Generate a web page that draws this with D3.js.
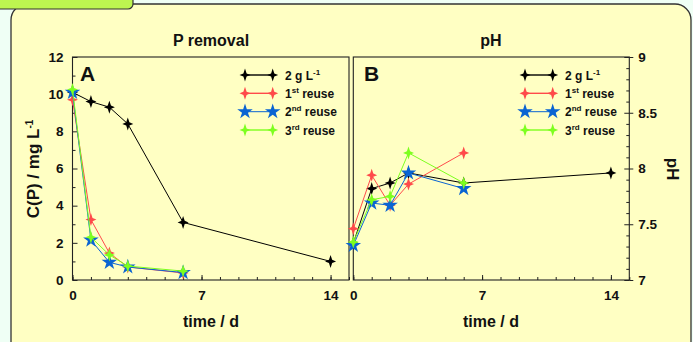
<!DOCTYPE html>
<html>
  <head>
    <meta charset="utf-8" />
    <script src="https://d3js.org/d3.v7.min.js"></script>
    <style>
        body {margin: 0; background: #effff5;}
        text {font-family: "Liberation Sans", Arial, sans-serif; font-weight: bold; fill: #111;}
    </style>
  </head>
  <body>
    <svg id="viz"></svg>

    <script>
        var width = 693
        var height = 342

        // sampling days
        var days = [0, 1, 2, 3, 6]
        var daysBase = [0, 1, 2, 3, 6, 14]

        // P concentration, mg/L
        var pBase = [10.1, 9.6, 9.3, 8.4, 3.1, 1.0]
        var pReuse1 = [9.7, 3.25, 1.45, 0.7, 0.38]
        var pReuse2 = [10.1, 2.15, 0.95, 0.7, 0.4]
        var pReuse3 = [10.25, 2.3, 1.35, 0.75, 0.48]

        // pH
        var phBase = [7.33, 7.82, 7.87, 7.96, 7.87, 7.96]
        var phReuse1 = [7.46, 7.94, 7.67, 7.86, 8.14]
        var phReuse2 = [7.31, 7.69, 7.67, 7.96, 7.82]
        var phReuse3 = [7.34, 7.72, 7.75, 8.14, 7.87]

        var xTicks = [0, 7, 14]
        var pTicks = [0, 2, 4, 6, 8, 10, 12]
        var phTicks = [7, 7.5, 8, 8.5, 9]

        var seriesNames = ["2 g L", "1", "2", "3"]
        var seriesSup = ["-1", "st", "nd", "rd"]
        var seriesColors = ["#000000", "#ff4a4a", "#0a64d2", "#7dff1e"]

        var svg = d3.select("#viz")
            .attr("width", width)
            .attr("height", height)

        svg.append("rect").attr("width", width).attr("height", height).attr("fill", "#effff5")

        // the yellow card and its green tab
        svg.append("rect")
            .attr("x", 11).attr("y", 4).attr("width", 680).attr("height", 360)
            .attr("rx", 16).attr("fill", "#ffffc3").attr("stroke", "#333").attr("stroke-width", 1.3)
        svg.append("rect")
            .attr("x", -10).attr("y", -10).attr("width", 143).attr("height", 19)
            .attr("rx", 5).attr("fill", "#bdf550").attr("stroke", "#333").attr("stroke-width", 1.2)

        var xA = d3.scaleLinear().domain([0, 15]).range([72.5, 349])
        var xB = d3.scaleLinear().domain([0, 15]).range([353.3, 629.3])
        var yA = d3.scaleLinear().domain([0, 12]).range([280, 57])
        var yB = d3.scaleLinear().domain([7, 9]).range([280, 57])

        // 4 pointed star and 5 pointed star
        var star4 = "M0,-6.5L1.6,-1.6L5.5,0L1.6,1.6L0,6.5L-1.6,1.6L-5.5,0L-1.6,-1.6Z"
        var star5 = d3.symbol().type(d3.symbolStar).size(75)()
        var shapes = [star4, star4, star5, star4]

        function frame(x, y) {
            var r = x.range(), t = y.range()
            svg.append("rect")
                .attr("x", r[0]).attr("y", t[1]).attr("width", r[1] - r[0]).attr("height", t[0] - t[1])
                .attr("fill", "none").attr("stroke", "#222").attr("stroke-width", 1.1)
        }

        function axes(x, y, side, yTicks, yMinor) {
            var g = svg.append("g").attr("transform", "translate(0," + y.range()[0] + ")")
            g.call(d3.axisBottom(x).tickValues(xTicks).tickSize(-5).tickPadding(10))
            svg.append("g").attr("transform", "translate(0," + y.range()[0] + ")")
                .call(d3.axisBottom(x).tickValues(d3.range(0, 16)).tickSize(-3).tickFormat(""))

            var ax = side == "left" ? d3.axisLeft(y) : d3.axisRight(y)
            var pos = side == "left" ? x.range()[0] : x.range()[1]
            var ga = svg.append("g").attr("transform", "translate(" + pos + ",0)")
            if (side == "left") {
                ga.call(ax.tickValues(yTicks).tickSize(-5).tickPadding(9))
            } else {
                ga.call(ax.tickValues(yTicks).tickSize(4).tickPadding(5).tickFormat(String))
                svg.append("g").attr("transform", "translate(" + pos + ",0)")
                    .call(d3.axisRight(y).tickValues(yTicks).tickSize(-5).tickFormat(""))
            }
            svg.append("g").attr("transform", "translate(" + pos + ",0)")
                .call((side == "left" ? d3.axisLeft(y) : d3.axisRight(y)).tickValues(yMinor).tickSize(-3).tickFormat(""))

            svg.selectAll(".domain").attr("stroke", "none")
            svg.selectAll(".tick line").attr("stroke", "#222")
            svg.selectAll(".tick text").style("font-size", "13.5px")
                .style("font-family", "Liberation Sans, Arial")
                .style("font-weight", "bold").attr("fill", "#111")
        }

        frame(xA, yA)
        frame(xB, yB)
        axes(xA, yA, "left", pTicks, d3.range(1, 12, 2))
        axes(xB, yB, "right", phTicks, d3.range(7.1, 9, 0.1).filter(function(d) {
            return Math.abs(d * 2 - Math.round(d * 2)) > 0.01
        }))

        function series(x, y, xs, ys, i) {
            var pts = ys.map(function(v, k) { return [x(xs[k]), y(v)] })
            svg.append("path")
                .attr("d", d3.line()(pts))
                .attr("fill", "none").attr("stroke", seriesColors[i]).attr("stroke-width", 1)
            svg.selectAll(null).data(pts).enter().append("path")
                .attr("d", shapes[i])
                .attr("transform", function(d) { return "translate(" + d + ")" })
                .attr("fill", seriesColors[i])
        }

        series(xA, yA, daysBase, pBase, 0)
        series(xA, yA, days, pReuse1, 1)
        series(xA, yA, days, pReuse2, 2)
        series(xA, yA, days, pReuse3, 3)

        series(xB, yB, daysBase, phBase, 0)
        series(xB, yB, days, phReuse1, 1)
        series(xB, yB, days, phReuse2, 2)
        series(xB, yB, days, phReuse3, 3)

        function legend(x0) {
            var rows = [75, 93.3, 111.7, 130]
            rows.forEach(function(ry, i) {
                svg.append("line").attr("x1", x0).attr("x2", x0 + 27.7).attr("y1", ry).attr("y2", ry)
                    .attr("stroke", seriesColors[i]).attr("stroke-width", i == 2 ? 1 : 1.4)
                ;[x0, x0 + 27.7].forEach(function(mx) {
                    svg.append("path").attr("d", shapes[i]).attr("fill", seriesColors[i])
                        .attr("transform", "translate(" + mx + "," + ry + ")")
                })
                var t = svg.append("text").attr("x", x0 + 40).attr("y", ry + 4.5).style("font-size", "12px")
                t.append("tspan").text(seriesNames[i])
                t.append("tspan").text(seriesSup[i]).attr("dy", -5).style("font-size", "8px")
                if (i > 0) t.append("tspan").text(" reuse").attr("dy", 5)
            })
        }
        legend(245)
        legend(525)

        // panel letters and titles
        svg.append("text").attr("x", 80).attr("y", 81).style("font-size", "21px").text("A")
        svg.append("text").attr("x", 364).attr("y", 81).style("font-size", "21px").text("B")
        svg.append("text").attr("x", 211).attr("y", 46).attr("text-anchor", "middle").style("font-size", "16px").text("P removal")
        svg.append("text").attr("x", 491).attr("y", 46).attr("text-anchor", "middle").style("font-size", "16px").text("pH")
        svg.append("text").attr("x", 211).attr("y", 327).attr("text-anchor", "middle").style("font-size", "16px").text("time / d")
        svg.append("text").attr("x", 491).attr("y", 327).attr("text-anchor", "middle").style("font-size", "16px").text("time / d")

        var yl = svg.append("text").attr("transform", "translate(39,169) rotate(-90)")
            .attr("text-anchor", "middle").style("font-size", "17px")
        yl.append("tspan").text("C(P) / mg L")
        yl.append("tspan").text("-1").attr("dy", -6).style("font-size", "10px")

        svg.append("text").attr("transform", "translate(667,169) rotate(90)")
            .attr("text-anchor", "middle").style("font-size", "17px").text("pH")
    </script>
  </body>
</html>
